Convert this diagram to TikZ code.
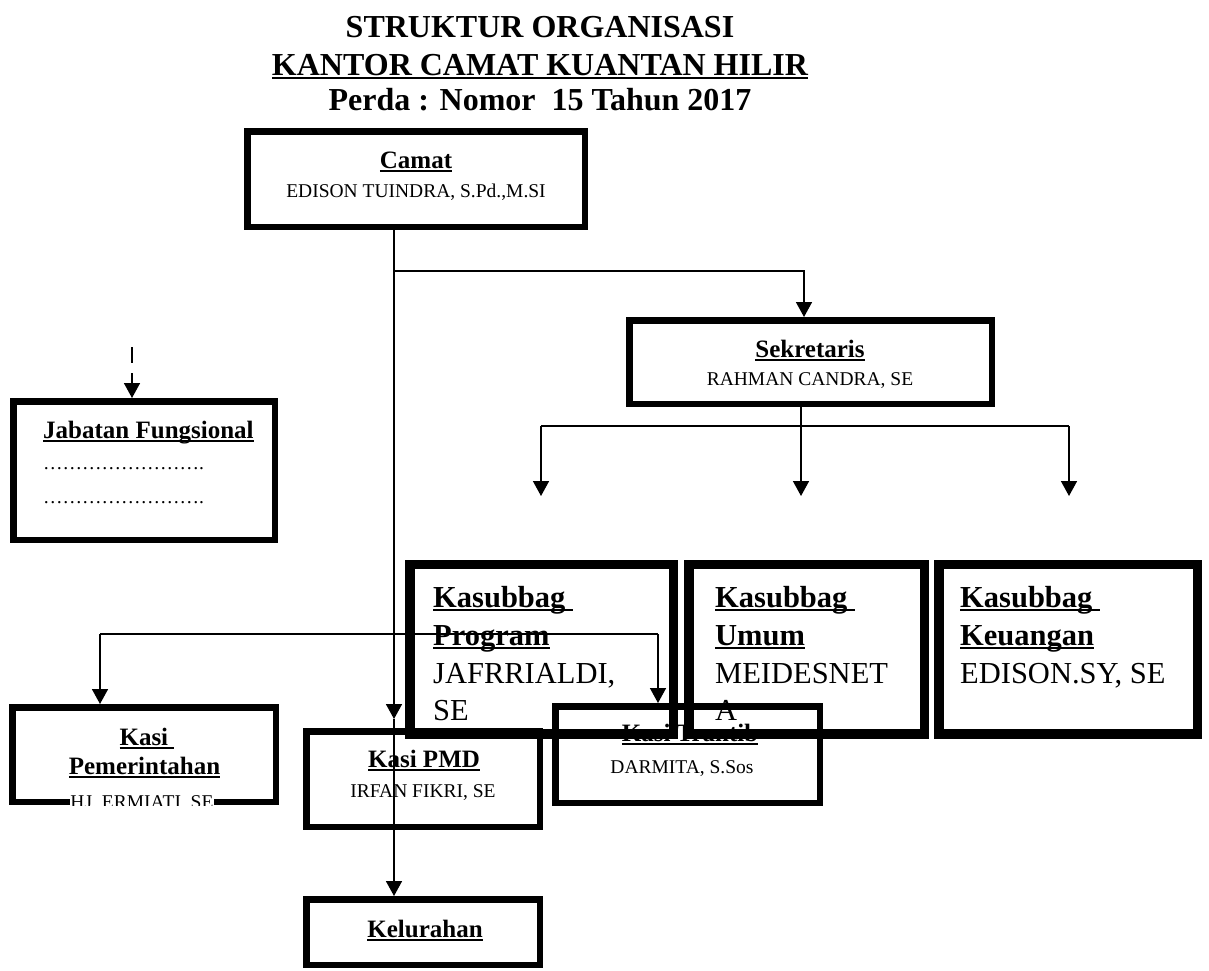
\documentclass[tikz,border=0pt]{standalone}
\usepackage{fontspec}
\setmainfont{Liberation Serif}
\usetikzlibrary{arrows.meta}
\newcommand\ulx[1]{\setbox0\hbox{#1}\rlap{\rule[-0.14em]{\wd0}{0.075em}}\box0}
\tikzset{
  box/.style={draw, line width=6.5pt, fill=white, inner sep=0pt},
  kbox/.style={draw, line width=9.5pt, inner sep=0pt},
  conn/.style={line width=1.6pt},
  arr/.style={conn, -{Triangle[width=16pt,length=15pt]}},
  lbl/.style={anchor=base, inner sep=0pt},
  ttl/.style={lbl, font=\fontsize{32}{36}\selectfont\bfseries},
  hd/.style={lbl, font=\fontsize{25}{30}\selectfont\bfseries},
  nm/.style={lbl, font=\fontsize{19.5}{23}\selectfont},
  kh/.style={anchor=base west, inner sep=0pt, font=\fontsize{30.5}{36}\selectfont\bfseries},
  kn/.style={anchor=base west, inner sep=0pt, font=\fontsize{30.5}{36}\selectfont},
}
\begin{document}
\begin{tikzpicture}[x=1pt,y=-1pt]
\fill[white] (0,0) rectangle (1209,970);
\useasboundingbox (0,0) rectangle (1209,970);

% title
\node[ttl] (t1) at (540,37) {STRUKTUR ORGANISASI};
\node[ttl] (t2) at (540,75) {\ulx{KANTOR CAMAT KUANTAN HILIR}};
\node[ttl] (t3) at (540,110) {Perda : Nomor\ \ 15 Tahun 2017};

% boxes
\node[box, minimum width=337.5pt, minimum height=95.5pt] (camat) at (416,179) {};
\node[box, minimum width=362.5pt, minimum height=83.5pt] (sek) at (810.5,362) {};
\node[box, minimum width=261.5pt, minimum height=138.5pt] (jab) at (144,470.5) {};
\node[box, minimum width=263.5pt, minimum height=94.5pt] (pem) at (144,754.5) {};
\node[box, minimum width=233.5pt, minimum height=95.5pt] (pmd) at (423,779) {};
\node[box, minimum width=264.5pt, minimum height=96.5pt] (tra) at (687.5,754.5) {};
\node[box, minimum width=233.5pt, minimum height=65.5pt] (kel) at (423,932) {};

% texts of ordinary boxes
\node[hd] (camatH) at (416,168) {\ulx{Camat}};
\node[nm] (camatN) at (416,197) {EDISON TUINDRA, S.Pd.,M.SI};
\node[hd] (sekH) at (810,357) {\ulx{Sekretaris}};
\node[nm] (sekN) at (810,385) {RAHMAN CANDRA, SE};
\node[hd, anchor=base west] (jabH) at (43,438) {\ulx{Jabatan Fungsional}};
\node[nm, anchor=base west] (jabD1) at (43,469) {…………………….};
\node[nm, anchor=base west] (jabD2) at (43,503) {…………………….};
\node[hd] (pemH1) at (147,745) {\ulx{Kasi\ }};
\node[hd] (pemH2) at (144.5,774) {\ulx{Pemerintahan}};
\begin{scope}
\clip (0,780) rectangle (300,805);
\node[nm, fill=white] (pemN) at (142,808) {HJ. ERMIATI, SE};
\end{scope}
\node[hd] (pmdH) at (424,767) {\ulx{Kasi PMD}};
\node[nm] (pmdN) at (423,797) {IRFAN FIKRI, SE};
\node[hd] (traH) at (690,741) {\ulx{Kasi Trantib}};
\node[nm] (traN) at (682,773) {DARMITA, S.Sos};
\node[hd] (kelH) at (425,937) {\ulx{Kelurahan}};

% kasubbag boxes (no fill)
\node[kbox, minimum width=263.5pt, minimum height=169.5pt] (prog) at (541.5,649) {};
\node[kbox, minimum width=235.5pt, minimum height=169.5pt] (umum) at (806.5,649) {};
\node[kbox, minimum width=258.5pt, minimum height=169.5pt] (keu) at (1068,649) {};
\node[kh] (progH1) at (433,607) {\ulx{Kasubbag\ }};
\node[kh] (progH2) at (433,645) {\ulx{Program}};
\node[kn] (progN1) at (433,683) {JAFRRIALDI,};
\node[kn] (progN2) at (433,720) {SE};
\node[kh] (umumH1) at (715,607) {\ulx{Kasubbag\ }};
\node[kh] (umumH2) at (715,645) {\ulx{Umum}};
\node[kn] (umumN1) at (715,683) {MEIDESNET};
\node[kn] (umumN2) at (715,720) {A};
\node[kh] (keuH1) at (960,607) {\ulx{Kasubbag\ }};
\node[kh] (keuH2) at (960,645) {\ulx{Keuangan}};
\node[kn] (keuN1) at (960,683) {EDISON.SY, SE};

% connector coordinates
\coordinate (vx) at (394,0);
\coordinate (j1) at (394,271);
\coordinate (sx) at (804,0);
\coordinate (j2) at (801,426);
\coordinate (b1) at (541,426);
\coordinate (b3) at (1069,426);
\coordinate (e1) at (541,496);
\coordinate (e2) at (801,496);
\coordinate (e3) at (1069,496);
\coordinate (pmdtip) at (394,719);
\coordinate (d0) at (132,347);
\coordinate (h1) at (100,634);
\coordinate (h2) at (658,634);

% connectors
\draw[conn] (camat.south -| vx) -- (j1);
\draw[arr] (j1) -- (pmdtip);
\draw[arr] (pmdtip) -- (kel.north -| vx);
\draw[arr] (j1) -| (sek.north -| sx);
\draw[conn] (sek.south -| j2) -- (j2);
\draw[conn] (b1) -- (b3);
\draw[arr] (b1) -- (e1);
\draw[arr] (j2) -- (e2);
\draw[arr] (b3) -- (e3);
\draw[arr, dash pattern=on 16pt off 10pt] (d0) -- (jab.north -| d0);
\draw[conn] (h1) -- (h2);
\draw[arr] (h1) -- (pem.north -| h1);
\draw[arr] (h2) -- (tra.north -| h2);
\end{tikzpicture}
\end{document}
